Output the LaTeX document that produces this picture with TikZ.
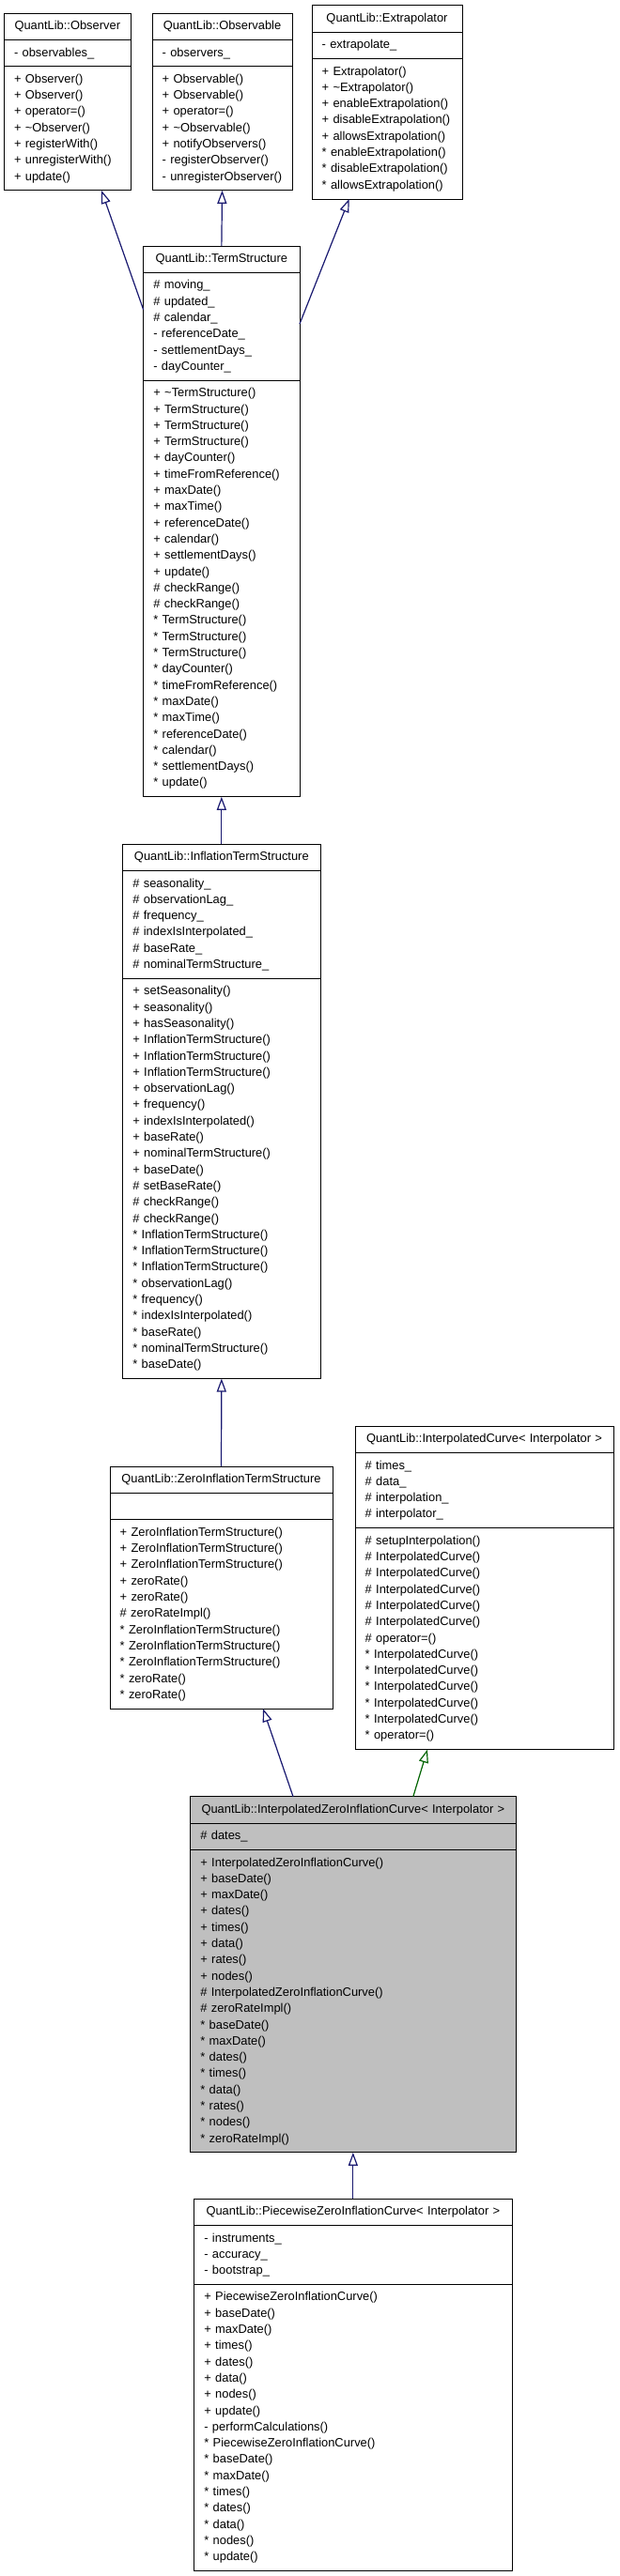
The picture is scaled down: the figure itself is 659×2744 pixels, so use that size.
\documentclass[tikz,border=0pt]{standalone}
\usepackage{fontspec}
\setmainfont{Liberation Sans}
\usetikzlibrary{positioning,arrows.meta}

\definecolor{edgeblue}{RGB}{25,25,112}
\definecolor{edgegreen}{RGB}{0,100,0}
\definecolor{focusgray}{RGB}{191,191,191}

\tikzset{
  cls/.style={draw=black, line width=1pt, fill=white, outer sep=0pt,
    inner xsep=10.7pt, inner ysep=0pt, minimum width=#1, text width=#1-21.4pt,
    align=left, font=\fontsize{12.9}{17.3}\selectfont},
  title/.style={cls=#1, anchor=north west, minimum height=28.5pt, align=center},
  rows/.style={minimum height=#1*17.3pt+11pt},
  inh/.style={draw=edgeblue, line width=1.2pt, -{Triangle[open,length=14pt,width=10pt]}},
  inhg/.style={inh, draw=edgegreen},
}

\begin{document}
\begin{tikzpicture}[x=1pt,y=-1pt]
    \fill[white] (0,0) rectangle (659,2744);
    \useasboundingbox (0,0) rectangle (659,2744);

    % top row
    \node[title=135pt] (obs) at (4.3,14) {QuantLib::Observer};
    \node[cls=135pt, rows=1, below=0pt of obs] (obsA) {- observables\_};
    \node[cls=135pt, rows=7, below=0pt of obsA] (obsM) {+ Observer()\\+ Observer()\\+ operator=()\\+ \textasciitilde Observer()\\+ registerWith()\\+ unregisterWith()\\+ update()};

    \node[title=149pt] (obsl) at (162,14) {QuantLib::Observable};
    \node[cls=149pt, rows=1, below=0pt of obsl] (obslA) {- observers\_};
    \node[cls=149pt, rows=7, below=0pt of obslA] (obslM) {+ Observable()\\+ Observable()\\+ operator=()\\+ \textasciitilde Observable()\\+ notifyObservers()\\- registerObserver()\\- unregisterObserver()};

    \node[title=160pt] (extr) at (332,5.8) {QuantLib::Extrapolator};
    \node[cls=160pt, rows=1, below=0pt of extr] (extrA) {- extrapolate\_};
    \node[cls=160pt, rows=8, below=0pt of extrA] (extrM) {+ Extrapolator()\\+ \textasciitilde Extrapolator()\\+ enableExtrapolation()\\+ disableExtrapolation()\\+ allowsExtrapolation()\\{*} enableExtrapolation()\\{*} disableExtrapolation()\\{*} allowsExtrapolation()};

    % term structure
    \node[title=166.3pt] (ts) at (152.7,262) {QuantLib::TermStructure};
    \node[cls=166.3pt, rows=6, below=0pt of ts] (tsA) {\# moving\_\\\# updated\_\\\# calendar\_\\- referenceDate\_\\- settlementDays\_\\- dayCounter\_};
    \node[cls=166.3pt, rows=25, below=0pt of tsA] (tsM) {+ \textasciitilde TermStructure()\\+ TermStructure()\\+ TermStructure()\\+ TermStructure()\\+ dayCounter()\\+ timeFromReference()\\+ maxDate()\\+ maxTime()\\+ referenceDate()\\+ calendar()\\+ settlementDays()\\+ update()\\\# checkRange()\\\# checkRange()\\{*} TermStructure()\\{*} TermStructure()\\{*} TermStructure()\\{*} dayCounter()\\{*} timeFromReference()\\{*} maxDate()\\{*} maxTime()\\{*} referenceDate()\\{*} calendar()\\{*} settlementDays()\\{*} update()};

    \node[title=210.3pt] (its) at (130.7,899) {QuantLib::InflationTermStructure};
    \node[cls=210.3pt, rows=6, below=0pt of its] (itsA) {\# seasonality\_\\\# observationLag\_\\\# frequency\_\\\# indexIsInterpolated\_\\\# baseRate\_\\\# nominalTermStructure\_};
    \node[cls=210.3pt, rows=24, below=0pt of itsA] (itsM) {+ setSeasonality()\\+ seasonality()\\+ hasSeasonality()\\+ InflationTermStructure()\\+ InflationTermStructure()\\+ InflationTermStructure()\\+ observationLag()\\+ frequency()\\+ indexIsInterpolated()\\+ baseRate()\\+ nominalTermStructure()\\+ baseDate()\\\# setBaseRate()\\\# checkRange()\\\# checkRange()\\{*} InflationTermStructure()\\{*} InflationTermStructure()\\{*} InflationTermStructure()\\{*} observationLag()\\{*} frequency()\\{*} indexIsInterpolated()\\{*} baseRate()\\{*} nominalTermStructure()\\{*} baseDate()};

    \node[title=237pt] (zits) at (117,1562) {QuantLib::ZeroInflationTermStructure};
    \node[cls=237pt, rows=1, below=0pt of zits] (zitsA) {};
    \node[cls=237pt, rows=11, below=0pt of zitsA] (zitsM) {+ ZeroInflationTermStructure()\\+ ZeroInflationTermStructure()\\+ ZeroInflationTermStructure()\\+ zeroRate()\\+ zeroRate()\\\# zeroRateImpl()\\{*} ZeroInflationTermStructure()\\{*} ZeroInflationTermStructure()\\{*} ZeroInflationTermStructure()\\{*} zeroRate()\\{*} zeroRate()};

    \node[title=275pt] (ic) at (378,1519) {QuantLib::InterpolatedCurve< Interpolator >};
    \node[cls=275pt, rows=4, below=0pt of ic] (icA) {\# times\_\\\# data\_\\\# interpolation\_\\\# interpolator\_};
    \node[cls=275pt, rows=13, below=0pt of icA] (icM) {\# setupInterpolation()\\\# InterpolatedCurve()\\\# InterpolatedCurve()\\\# InterpolatedCurve()\\\# InterpolatedCurve()\\\# InterpolatedCurve()\\\# operator=()\\{*} InterpolatedCurve()\\{*} InterpolatedCurve()\\{*} InterpolatedCurve()\\{*} InterpolatedCurve()\\{*} InterpolatedCurve()\\{*} operator=()};

    % the class itself
    \node[title=346.3pt, fill=focusgray] (izic) at (202.7,1913.7) {QuantLib::InterpolatedZeroInflationCurve< Interpolator >};
    \node[cls=346.3pt, rows=1, fill=focusgray, below=0pt of izic] (izicA) {\# dates\_};
    \node[cls=346.3pt, rows=18, fill=focusgray, below=0pt of izicA] (izicM) {+ InterpolatedZeroInflationCurve()\\+ baseDate()\\+ maxDate()\\+ dates()\\+ times()\\+ data()\\+ rates()\\+ nodes()\\\# InterpolatedZeroInflationCurve()\\\# zeroRateImpl()\\{*} baseDate()\\{*} maxDate()\\{*} dates()\\{*} times()\\{*} data()\\{*} rates()\\{*} nodes()\\{*} zeroRateImpl()};

    \node[title=338.3pt] (pzic) at (206.7,2342) {QuantLib::PiecewiseZeroInflationCurve< Interpolator >};
    \node[cls=338.3pt, rows=3, below=0pt of pzic] (pzicA) {- instruments\_\\- accuracy\_\\- bootstrap\_};
    \node[cls=338.3pt, rows=17, below=0pt of pzicA] (pzicM) {+ PiecewiseZeroInflationCurve()\\+ baseDate()\\+ maxDate()\\+ times()\\+ dates()\\+ data()\\+ nodes()\\+ update()\\- performCalculations()\\{*} PiecewiseZeroInflationCurve()\\{*} baseDate()\\{*} maxDate()\\{*} times()\\{*} dates()\\{*} data()\\{*} nodes()\\{*} update()};

    % inheritance
    \draw[inh] ([yshift=-68pt]ts.north west) -- ([xshift=36.2pt]obsM.south);
    \draw[inh] (ts.north) -- (obslM.south);
    \draw[inh] ([yshift=-83pt]ts.north east) -- ([xshift=-40.3pt]extrM.south);
    \draw[inh] (its.north) -- (tsM.south);
    \draw[inh] (zits.north) -- (itsM.south);
    \draw[inh] ([xshift=-63.85pt]izic.north) -- ([xshift=44.5pt]zitsM.south);
    \draw[inhg] ([xshift=64pt]izic.north) -- ([xshift=-60.5pt]icM.south);
    \draw[inh] (pzic.north) -- (izicM.south);
\end{tikzpicture}
\end{document}
